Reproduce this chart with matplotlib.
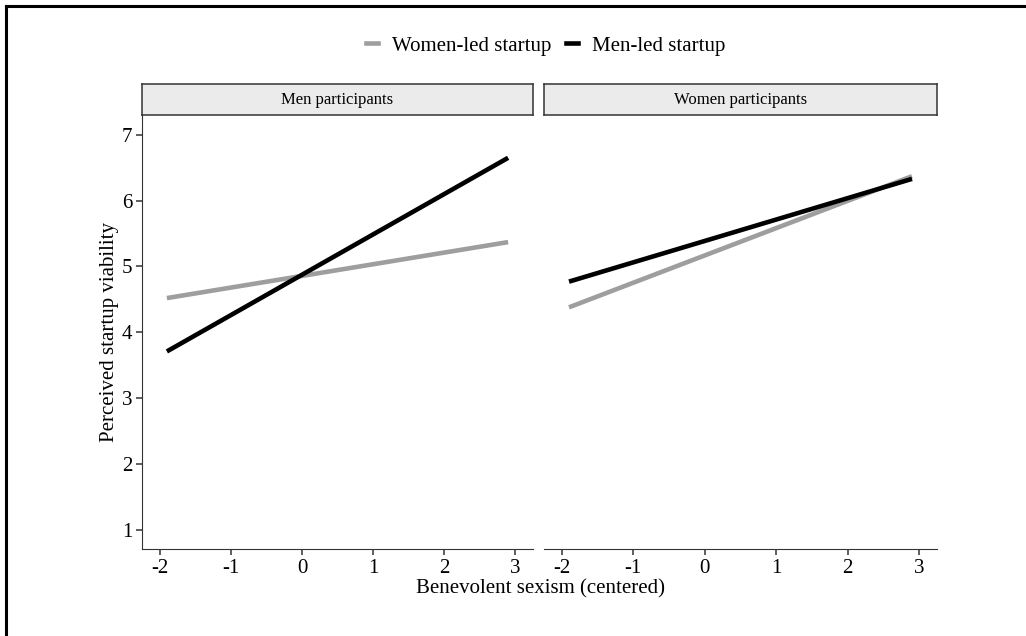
import matplotlib.pyplot as plt
from matplotlib.lines import Line2D

plt.rcParams['font.family'] = ['Liberation Serif', 'DejaVu Serif']
plt.rcParams['axes.unicode_minus'] = False

# simple slopes at -1.9 and 2.9 on the centered predictor
bs = [-1.9, 2.9]
men_women_led = [4.52, 5.37]
men_men_led = [3.71, 6.65]
women_women_led = [4.38, 6.37]
women_men_led = [4.77, 6.33]

panels = ['Men participants', 'Women participants']
series = [(men_women_led, men_men_led), (women_women_led, women_men_led)]
legend_labels = ['Women-led startup', 'Men-led startup']
gray = '#9e9e9e'
W, H = 1026, 636

fig = plt.figure(figsize=(W / 100, H / 100), dpi=100)

def rect(x0, y0, x1, y1):
    return [x0 / W, 1 - y1 / H, (x1 - x0) / W, (y1 - y0) / H]

boxes = [(142, 533), (544, 937)]
for i, (x0, x1) in enumerate(boxes):
    ax = fig.add_axes(rect(x0, 115, x1, 549))
    wl, ml = series[i]
    ax.plot(bs, wl, color=gray, lw=3.3, solid_capstyle='butt')
    ax.plot(bs, ml, color='black', lw=3.3, solid_capstyle='butt')
    ax.set_xlim(-2.25, 3.25)
    ax.set_ylim(0.71, 7.3)
    ax.set_xticks([-2, -1, 0, 1, 2, 3])
    ax.set_yticks([1, 2, 3, 4, 5, 6, 7])
    for s in ['top', 'right']:
        ax.spines[s].set_visible(False)
    ax.spines['bottom'].set_color('#333333')
    ax.spines['left'].set_color('#333333')
    ax.tick_params(labelsize=15, length=4, width=1.1, color='#333333', pad=3)
    if i == 1:
        ax.spines['left'].set_visible(False)
        ax.tick_params(axis='y', left=False, labelleft=False)
    else:
        ax.set_ylabel('Perceived startup viability', fontsize=15, labelpad=2)

    # facet strip
    st = fig.add_axes(rect(x0, 84, x1, 115))
    st.set_facecolor('#ebebeb')
    st.set_xticks([])
    st.set_yticks([])
    for s in st.spines.values():
        s.set_color('#333333')
        s.set_linewidth(1.1)
    st.text(0.5, 0.5, panels[i], ha='center', va='center', fontsize=12,
            transform=st.transAxes)

fig.text(540 / W, 1 - 589 / H, 'Benevolent sexism (centered)', ha='center',
         va='center', fontsize=15)

handles = [Line2D([], [], color=gray, lw=3.3),
           Line2D([], [], color='black', lw=3.3)]
fig.legend(handles, legend_labels, loc='center', bbox_to_anchor=(546 / W, 1 - 46 / H),
           ncol=2, frameon=False, fontsize=15, handlelength=0.55,
           handletextpad=0.7, columnspacing=0.7)

# outer frame: top and left edges only
fig.add_artist(Line2D([6 / W, 1], [1 - 6 / H, 1 - 6 / H], color='black', lw=2.2,
                      transform=fig.transFigure))
fig.add_artist(Line2D([6 / W, 6 / W], [0, 1 - 6 / H], color='black', lw=2.2,
                      transform=fig.transFigure))

fig.savefig('out.png', dpi=100)
